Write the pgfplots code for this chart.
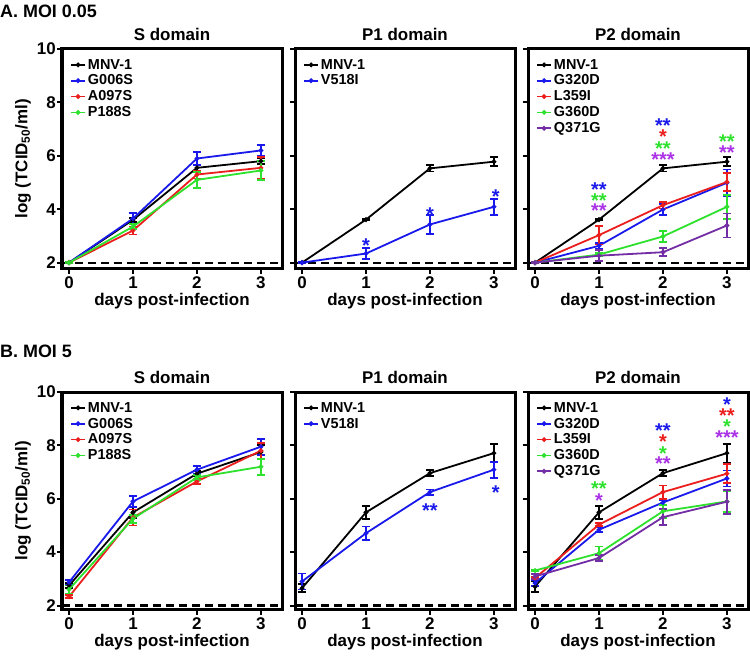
\documentclass[border=0pt]{standalone}
\usepackage{pgfplots}
\pgfplotsset{compat=1.18}
\usepackage{fontspec}
\setmainfont{Liberation Sans}
\definecolor{cblue}{RGB}{25,25,235}
\definecolor{cred}{RGB}{235,30,30}
\definecolor{cgreen}{RGB}{45,225,45}
\definecolor{cpurple}{RGB}{115,45,165}
\definecolor{apurple}{RGB}{170,50,230}
\pgfplotsset{
  panel/.style={
    scale only axis, width=220bp, xmin=-0.11, xmax=3.33, ymax=10,
    xtick={0,1,2,3}, ytick={2,4,6,8,10},
    tick align=outside, tick pos=left,
    major tick length=5bp,
    every tick/.style={black, line width=2bp},
    axis line style={line width=3bp},
    /pgf/number format/assume math mode=true,
    ticklabel style={font=\fontsize{17}{17}\selectfont\bfseries},
    yticklabel style={inner sep=1bp},
    title style={font=\fontsize{17}{17}\selectfont\bfseries, at={(axis description cs:0.5,1)}, anchor=center, yshift=8.5bp},
    xlabel={days post-infection},
    xlabel style={font=\fontsize{17}{17}\selectfont\bfseries, at={(axis description cs:0.5,0)}, anchor=center, yshift=-32.5bp},
    ylabel style={font=\fontsize{17}{17}\selectfont\bfseries, at={(axis description cs:-0.177,0.5)}, anchor=center},
    legend style={at={(axis description cs:0,1)}, anchor=north west, xshift=7bp, yshift=-7bp, draw=none, fill=none,
      font=\fontsize{14.5}{14.5}\selectfont\bfseries, row sep=0.3bp, inner sep=1bp},
    legend cell align=left,
    legend image code/.code={\draw[mark repeat=2,mark phase=2,#1] plot coordinates {(0bp,0bp) (7bp,0bp) (14bp,0bp)};},
    clip=false,
  },
  rowA/.style={height=219.5bp, ymin=1.78},
  rowB/.style={height=217.5bp, ymin=1.85},
  ser/.style={#1, line width=1.8bp, mark=*, mark size=1.4bp, mark options={solid,#1},
    error bars/.cd, y dir=both, y explicit,
    error bar style={line width=1.8bp, #1},
    error mark options={rotate=90, mark size=4bp, line width=1.8bp, #1}},
}
\tikzset{ast/.style={font=\fontsize{20}{20}\selectfont\bfseries, anchor=base, yshift=-11bp, inner sep=0pt}}
\newcommand{\dashedbase}{\addplot[black, line width=2.2bp, dash pattern=on 8bp off 5bp, forget plot] coordinates {(-0.11,2) (3.33,2)};}
\begin{document}
\begin{tikzpicture}
\useasboundingbox (0,0) rectangle (750bp,-661bp);
\node[anchor=west, inner sep=0pt, font=\fontsize{18}{18}\selectfont\bfseries] at (0bp,-11bp) {A. MOI 0.05};
\node[anchor=west, inner sep=0pt, font=\fontsize{18}{18}\selectfont\bfseries] at (0bp,-351bp) {B. MOI 5};

% ---------- Row A ----------
\begin{axis}[panel, rowA, at={(62bp,-268.5bp)}, anchor=south west, title={S domain}, ylabel={log (TCID\textsubscript{50}/ml)}]
\dashedbase
\addplot[ser=black] coordinates {(0,2) +- (0,0.03) (1,3.6) +- (0,0.08) (2,5.55) +- (0,0.12) (3,5.8) +- (0,0.12)};
\addplot[ser=cblue] coordinates {(0,2) +- (0,0.03) (1,3.65) +- (0,0.2) (2,5.9) +- (0,0.25) (3,6.2) +- (0,0.2)};
\addplot[ser=cred] coordinates {(0,2) +- (0,0.03) (1,3.2) +- (0,0.15) (2,5.3) +- (0,0.15) (3,5.55) +- (0,0.4)};
\addplot[ser=cgreen] coordinates {(0,2) +- (0,0.03) (1,3.35) +- (0,0.1) (2,5.1) +- (0,0.3) (3,5.45) +- (0,0.35)};
\legend{MNV-1, G006S, A097S, P188S}
\end{axis}

\begin{axis}[panel, rowA, at={(295bp,-268.5bp)}, anchor=south west, title={P1 domain}, yticklabels={}]
\dashedbase
\addplot[ser=black] coordinates {(0,2) +- (0,0.03) (1,3.61) +- (0,0.03) (2,5.53) +- (0,0.12) (3,5.78) +- (0,0.17)};
\addplot[ser=cblue] coordinates {(0,2) +- (0,0.03) (1,2.34) +- (0,0.2) (2,3.43) +- (0,0.35) (3,4.09) +- (0,0.3)};
\legend{MNV-1, V518I}
\node[ast, cblue] at (axis cs:1,2.78) {*};
\node[ast, cblue] at (axis cs:2,3.96) {*};
\node[ast, cblue] at (axis cs:3.03,4.62) {*};
\end{axis}

\begin{axis}[panel, rowA, at={(528bp,-268.5bp)}, anchor=south west, title={P2 domain}, yticklabels={}]
\dashedbase
\addplot[ser=black] coordinates {(0,2) +- (0,0.03) (1,3.61) +- (0,0.03) (2,5.53) +- (0,0.12) (3,5.78) +- (0,0.17)};
\addplot[ser=cblue] coordinates {(0,2) +- (0,0.03) (1,2.63) +- (0,0.1) (2,3.99) +- (0,0.2) (3,4.99) +- (0,0.5)};
\addplot[ser=cred] coordinates {(0,2) +- (0,0.03) (1,3.03) +- (0,0.35) (2,4.15) +- (0,0.12) (3,5.02) +- (0,0.35)};
\addplot[ser=cgreen] coordinates {(0,2) +- (0,0.03) (1,2.3) +- (0,0.05) (2,2.98) +- (0,0.2) (3,4.09) +- (0,0.45)};
\addplot[ser=cpurple] coordinates {(0,2) +- (0,0.03) (1,2.26) +- (0,0.2) (2,2.39) +- (0,0.15) (3,3.39) +- (0,0.45)};
\legend{MNV-1, G320D, L359I, G360D, Q371G}
\node[ast, cblue] at (axis cs:1,4.88) {**};
\node[ast, cgreen] at (axis cs:1,4.49) {**};
\node[ast, apurple] at (axis cs:1,4.09) {**};
\node[ast, cblue] at (axis cs:2,7.28) {**};
\node[ast, cred] at (axis cs:2,6.87) {*};
\node[ast, cgreen] at (axis cs:2,6.44) {**};
\node[ast, apurple] at (axis cs:2,6.02) {***};
\node[ast, cgreen] at (axis cs:3,6.68) {**};
\node[ast, apurple] at (axis cs:3,6.27) {**};
\end{axis}

% ---------- Row B ----------
\begin{axis}[panel, rowB, at={(62bp,-609.5bp)}, anchor=south west, title={S domain}, ylabel={log (TCID\textsubscript{50}/ml)}]
\dashedbase
\addplot[ser=black] coordinates {(0,2.75) +- (0,0.1) (1,5.49) +- (0,0.2) (2,6.94) +- (0,0.1) (3,7.75) +- (0,0.25)};
\addplot[ser=cblue] coordinates {(0,2.87) +- (0,0.1) (1,5.9) +- (0,0.2) (2,7.09) +- (0,0.15) (3,7.95) +- (0,0.3)};
\addplot[ser=cred] coordinates {(0,2.33) +- (0,0.05) (1,5.3) +- (0,0.3) (2,6.65) +- (0,0.1) (3,7.8) +- (0,0.3)};
\addplot[ser=cgreen] coordinates {(0,2.6) +- (0,0.15) (1,5.25) +- (0,0.15) (2,6.8) +- (0,0.1) (3,7.2) +- (0,0.3)};
\legend{MNV-1, G006S, A097S, P188S}
\end{axis}

\begin{axis}[panel, rowB, at={(295bp,-609.5bp)}, anchor=south west, title={P1 domain}, yticklabels={}]
\dashedbase
\addplot[ser=black] coordinates {(0,2.65) +- (0,0.15) (1,5.49) +- (0,0.25) (2,6.96) +- (0,0.12) (3,7.71) +- (0,0.35)};
\addplot[ser=cblue] coordinates {(0,2.9) +- (0,0.3) (1,4.71) +- (0,0.25) (2,6.25) +- (0,0.1) (3,7.09) +- (0,0.3)};
\legend{MNV-1, V518I}
\node[ast, cblue] at (axis cs:2,5.71) {**};
\node[ast, cblue] at (axis cs:3.03,6.4) {*};
\end{axis}

\begin{axis}[panel, rowB, at={(528bp,-609.5bp)}, anchor=south west, title={P2 domain}, yticklabels={}]
\dashedbase
\addplot[ser=black] coordinates {(0,2.71) +- (0,0.2) (1,5.49) +- (0,0.25) (2,6.96) +- (0,0.12) (3,7.71) +- (0,0.35)};
\addplot[ser=cblue] coordinates {(0,2.84) +- (0,0.1) (1,4.84) +- (0,0.08) (2,5.86) +- (0,0.1) (3,6.76) +- (0,0.3)};
\addplot[ser=cred] coordinates {(0,3.03) +- (0,0.05) (1,5.03) +- (0,0.05) (2,6.25) +- (0,0.25) (3,6.94) +- (0,0.35)};
\addplot[ser=cgreen] coordinates {(0,3.31) +- (0,0.03) (1,3.96) +- (0,0.25) (2,5.53) +- (0,0.25) (3,5.9) +- (0,0.4)};
\addplot[ser=cpurple] coordinates {(0,3.09) +- (0,0.1) (1,3.78) +- (0,0.1) (2,5.31) +- (0,0.3) (3,5.89) +- (0,0.45)};
\legend{MNV-1, G320D, L359I, G360D, Q371G}
\node[ast, cgreen] at (axis cs:1,6.53) {**};
\node[ast, apurple] at (axis cs:1,6.09) {*};
\node[ast, cblue] at (axis cs:2,8.69) {**};
\node[ast, cred] at (axis cs:2,8.28) {*};
\node[ast, cgreen] at (axis cs:2,7.86) {*};
\node[ast, apurple] at (axis cs:2,7.46) {**};
\node[ast, cblue] at (axis cs:3,9.69) {*};
\node[ast, cred] at (axis cs:3,9.28) {**};
\node[ast, cgreen] at (axis cs:3,8.86) {*};
\node[ast, apurple] at (axis cs:3,8.44) {***};
\end{axis}
\end{tikzpicture}
\end{document}
